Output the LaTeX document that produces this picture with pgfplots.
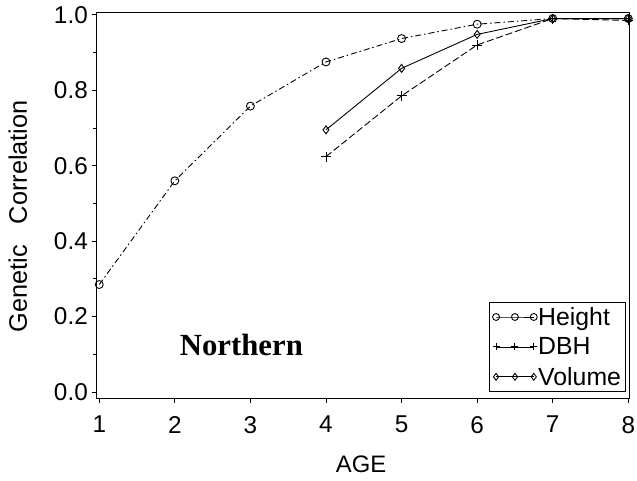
\documentclass[border=0pt]{standalone}
\usepackage{pgfplots}
\pgfplotsset{compat=1.18}
\usepackage{fontspec}
\setmainfont{Liberation Sans}
\newfontfamily\serifb{Liberation Serif}
\begin{document}
\begin{tikzpicture}
\begin{axis}[
  scale only axis,
  width=537bp, height=389bp,
  xmin=0.96, xmax=8.01,
  ymin=-0.018, ymax=1.005,
  xtick={1,2,3,4,5,6,7,8},
  ytick={0,0.2,0.4,0.6,0.8,1.0},
  minor ytick={0.1,0.3,0.5,0.7,0.9},
  /pgf/number format/assume math mode=true,
  tick align=outside,
  tick pos=left,
  major tick length=4bp,
  minor tick length=3bp,
  axis line style={line width=1bp},
  every tick/.style={line width=0.8bp, black},
  tick label style={font=\fontsize{24.5bp}{28bp}\selectfont},
  xticklabel style={yshift=-10bp},
  yticklabel style={xshift=-1bp, /pgf/number format/.cd, fixed, fixed zerofill, precision=1},
  label style={font=\fontsize{24bp}{28bp}\selectfont},
  xlabel={AGE},
  ylabel={\fontsize{25.5bp}{30bp}\selectfont Genetic\ \ \ Correlation},
  xlabel style={at={(axis description cs:0.497,-0.17)}, anchor=center},
  ylabel style={at={(axis description cs:-0.147,0.473)}, anchor=center},
  legend style={at={(0.993,0.018)}, anchor=south east, draw=black, line width=0.8bp,
    font=\fontsize{25bp}{29bp}\selectfont, inner xsep=3bp, inner ysep=4bp,
    row sep=9bp, nodes={inner sep=1bp}},
  legend cell align=left,
  legend image code/.code={\draw[#1, solid, line width=0.8bp, mark size=3.5bp] plot coordinates {(0bp,0bp) (19bp,0bp) (38bp,0bp)};},
]
\addplot[black, line width=0.9bp, dash pattern=on 6bp off 3bp on 1.5bp off 3bp,
  mark=o, mark size=4bp, mark options={solid, line width=0.9bp}]
  coordinates {(1,0.285) (2,0.56) (3,0.758) (4,0.875) (5,0.937) (6,0.975) (7,0.99) (8,0.99)};
\addlegendentry{Height}
\addplot[black, line width=0.9bp, dash pattern=on 7bp off 3bp,
  mark=+, mark size=5bp, mark options={solid, line width=0.9bp}]
  coordinates {(4,0.624) (5,0.785) (6,0.92) (7,0.99) (8,0.985)};
\addlegendentry{DBH}
\addplot[black, line width=0.9bp, solid,
  mark=diamond, mark size=4bp, mark options={solid, line width=0.9bp}]
  coordinates {(4,0.695) (5,0.858) (6,0.948) (7,0.99) (8,0.99)};
\addlegendentry{Volume}
\node[font=\serifb\bfseries\fontsize{31bp}{35bp}\selectfont, anchor=center] at (axis cs:2.88,0.124) {Northern};
\end{axis}
\pgfresetboundingbox
\path[use as bounding box] ([shift={(-97bp,-82bp)}]current axis.south west) rectangle ([shift={(8bp,13bp)}]current axis.north east);
\end{tikzpicture}
\end{document}
